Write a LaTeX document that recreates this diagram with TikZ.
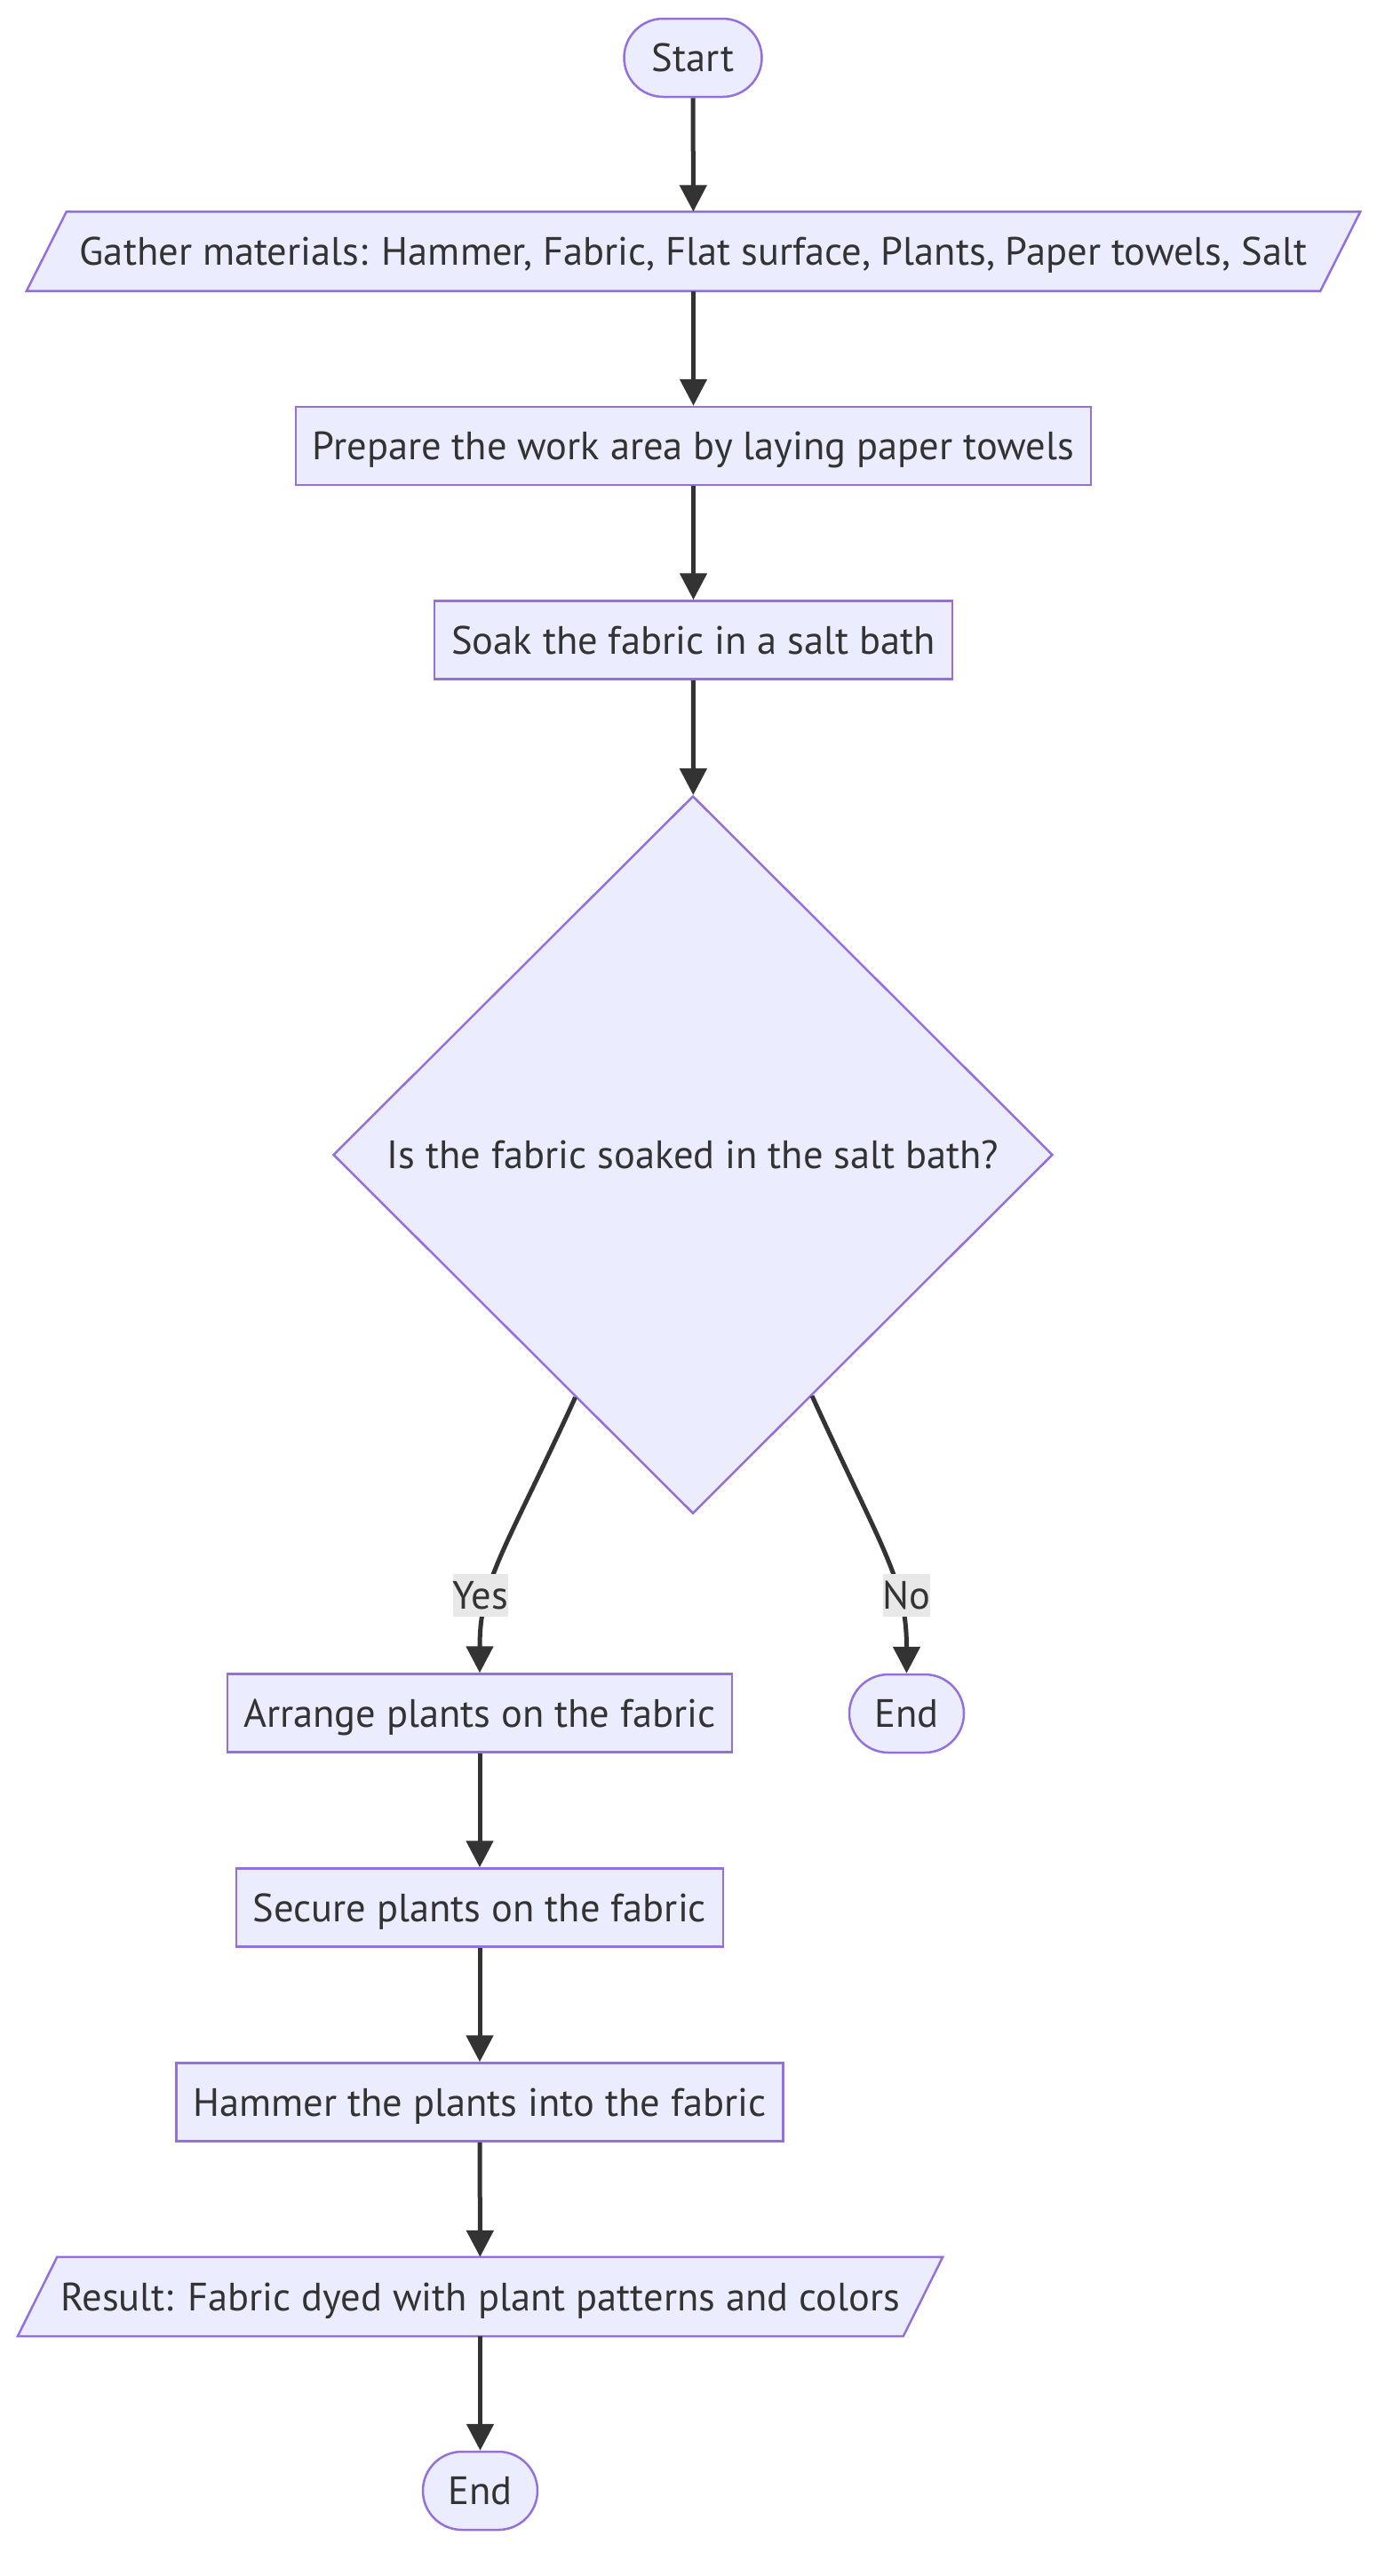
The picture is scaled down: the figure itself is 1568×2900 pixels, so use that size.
\documentclass[tikz,border=0pt]{standalone}
\usepackage{fontspec}
\setmainfont{PT Sans}
\usetikzlibrary{shapes.geometric,arrows.meta,calc,backgrounds}
\definecolor{nodefill}{HTML}{ECECFF}
\definecolor{nodeline}{HTML}{9370DB}
\definecolor{ink}{HTML}{333333}
\definecolor{labelbg}{HTML}{E8E8E8}
\tikzset{
  txt/.style={text=ink, font=\fontsize{44.5}{52}\selectfont, inner sep=0pt, text height=38pt, text depth=7pt},
  base/.style={txt, fill=nodefill, draw=nodeline, line width=2.5pt},
  proc/.style={base, rectangle, minimum height=88pt},
  term/.style={base, rectangle, rounded corners=44pt, minimum height=88pt},
  iobox/.style={txt, rectangle, minimum height=89pt},
  ioshape/.style={fill=nodefill, draw=nodeline, line width=2.5pt},
  decision/.style={base, diamond, minimum width=810pt, minimum height=808pt},
  edge/.style={draw=ink, line width=5pt, -{Triangle[length=30pt,width=30pt]}},
  edgelabel/.style={txt, fill=labelbg, minimum height=48pt},
}
\begin{document}
\begin{tikzpicture}[x=1pt,y=-1pt]
\useasboundingbox (0,0) rectangle (1568,2900);

\node[term, minimum width=155pt] (s) at (780,65) {Start};
\node[iobox, minimum width=1501pt] (g) at (780.5,283) {Gather materials: Hammer, Fabric, Flat surface, Plants, Paper towels, Salt};
\node[proc, minimum width=895pt] (p) at (780.5,502) {Prepare the work area by laying paper towels};
\node[proc, minimum width=583pt] (k) at (780.5,720.5) {Soak the fabric in a salt bath};
\node[decision] (d) at (780,1300) {Is the fabric soaked in the salt bath?};
\node[proc, minimum width=568pt] (a) at (540,1928.5) {Arrange plants on the fabric};
\node[term, minimum width=129pt] (e1) at (1020.5,1929) {End};
\node[proc, minimum width=548pt] (c) at (540,2147.5) {Secure plants on the fabric};
\node[proc, minimum width=683pt] (h) at (540,2366.5) {Hammer the plants into the fabric};
\node[iobox, minimum width=1041pt] (r) at (540.5,2585.5) {Result: Fabric dyed with plant patterns and colors};
\node[term, minimum width=129pt] (e2) at (540.5,2804) {End};

\begin{scope}[on background layer]
  \draw[ioshape] ([xshift=45pt]g.north west) -- (g.north east) -- ([xshift=-45pt]g.south east) -- (g.south west) -- cycle;
  \draw[ioshape] ([xshift=44.5pt]r.north west) -- (r.north east) -- ([xshift=-44.5pt]r.south east) -- (r.south west) -- cycle;
\end{scope}

\draw[edge] (s) -- (g);
\draw[edge] (g) -- (p);
\draw[edge] (p) -- (k);
\draw[edge] (k) -- (d);
\draw[edge] ($(d.west)!0.674!(d.south)$) .. controls +(-80,175) and ($(a.north)+(0,-104)$) .. (a.north);
\draw[edge] ($(d.east)!0.67!(d.south)$) .. controls +(80,175) and ($(e1.north)+(0,-104)$) .. (e1.north);
\draw[edge] (a) -- (c);
\draw[edge] (c) -- (h);
\draw[edge] (h) -- (r);
\draw[edge] (r) -- (e2);

\node[edgelabel, minimum width=59pt] (ly) at (541,1796) {Yes};
\node[edgelabel, minimum width=49pt] (ln) at (1020.5,1796) {No};
\end{tikzpicture}
\end{document}
